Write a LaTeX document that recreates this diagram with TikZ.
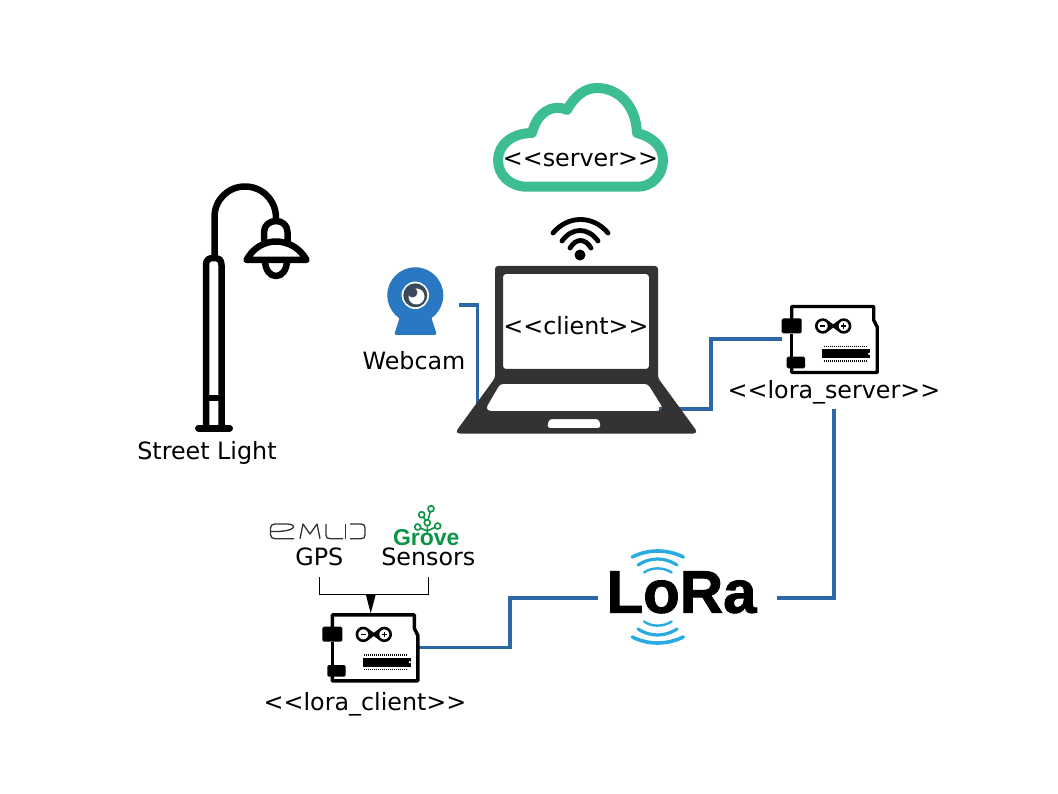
\documentclass[tikz,border=0pt]{standalone}
\usepackage{fontspec}
\setmainfont{DejaVu Sans}
\newfontfamily\logofont{Liberation Sans}
\newfontfamily\logoheavy[BoldFeatures={FakeBold=1.6}]{Liberation Sans}
\definecolor{wire}{HTML}{2E67A8}
\definecolor{cloudgreen}{HTML}{3DBD94}
\definecolor{laptopgrey}{HTML}{333333}
\definecolor{camblue}{HTML}{2A78C2}
\definecolor{camdark}{HTML}{3A4A5C}
\definecolor{lorablue}{HTML}{29ABE2}
\definecolor{grovegreen}{HTML}{0A9444}
\definecolor{emlidgrey}{HTML}{333333}
\tikzset{
  anchorbox/.style={inner sep=0pt,outer sep=0pt,minimum width=#1},
  lbl/.style={inner sep=0pt,outer sep=0pt,anchor=base,font=\fontsize{23.8}{28}\selectfont,text height=17.5pt,text depth=#1},
  lbl/.default=6pt,
  wireline/.style={draw=wire,line width=3.4pt},
  thinline/.style={draw=black,line width=0.9pt},
  lamp/.style={draw=black,line width=6.5pt,line join=round,line cap=round},
  wifi/.style={draw=black,line width=4.8pt,line cap=round},
  lorawave/.style={draw=lorablue,line cap=round},
  emlid/.style={draw=emlidgrey,line width=1.3pt,line join=round},
  grovetree/.style={draw=grovegreen,line width=1.6pt},
  arduinoicon/.pic={
    \draw[line width=3.4pt,line join=round,line cap=round]
      (10,13) -- (10,1.5) -- (92,1.5) -- (92,15) -- (95.5,22) -- (95.5,67.5) -- (10,67.5) -- (10,62);
    \draw[line width=3.4pt] (10,29) -- (10,52);
    \fill[rounded corners=1.5pt] (0,13.3) rectangle (20,28.3);
    \fill[rounded corners=1.5pt] (5,51.7) rectangle (23.3,63.3);
    \draw[line width=2.6pt] (41,21) circle[radius=6.4pt] (62,21) circle[radius=6.4pt]
      (45.6,16.6) -- (57.4,25.4) (45.6,25.4) -- (57.4,16.6);
    \draw[line width=1.2pt] (38.4,21) -- (43.6,21) (59.4,21) -- (64.6,21) (62,18.4) -- (62,23.6);
    \fill (40.3,44.3) rectangle (88.3,53.3);
    \fill[white] (87.5,48.8) circle[radius=1.3pt];
    \draw[line width=1.5pt,dash pattern=on 1pt off 1pt] (42,41.5) -- (86,41.5) (42,56) -- (86,56);
  }
}
\begin{document}
\begin{tikzpicture}[x=1pt,y=-1pt]
\useasboundingbox (0,0) rectangle (1058,794);

% invisible extents of the icons, used by the connectors
\node[anchorbox=72pt,minimum height=60pt] (webcam) at (423,305) {};
\node[anchorbox=95.6pt,minimum height=68pt] (loraserver) at (829.5,339) {};
\node[anchorbox=96.7pt,minimum height=68pt] (loraclient) at (370.7,647.4) {};
\node[anchorbox=179pt,minimum height=100pt] (lora) at (687.5,598) {};
\coordinate (laptopleft) at (477.5,404);
\coordinate (laptopright) at (659,409);
\coordinate (bendright) at (711,374);
\coordinate (bendlow) at (510,620);

% labels
\node[lbl] (streetlabel) at (207,459.5) {Street Light};
\node[lbl] (webcamlabel) at (414,369.3) {Webcam};
\node[lbl] (clientlabel) at (576,335) {<{}<client>{}>};
\node[lbl] (serverlabel) at (580.5,167) {<{}<server>{}>};
\node[lbl=10.7pt] (loraserverlabel) at (834,398.3) {<{}<lora\_server>{}>};
\node[lbl] (loraclientlabel) at (365,710) {<{}<lora\_client>{}>};
\node[lbl=12pt] (gps) at (319.3,565) {GPS};
\node[lbl=12pt] (sensors) at (428.3,565) {Sensors};

% connectors (under the laptop, which is drawn with see-through holes)
\draw[wireline] (webcam.east) -| (laptopleft);
\draw[wireline] (laptopright) -| (bendright) |- (loraserver.west);
\draw[wireline] (loraserverlabel.south) |- (lora.east);
\draw[wireline] (lora.west) -| (bendlow) |- (loraclient.east);
\coordinate (busjoin) at (370.8,594.3);
\draw[thinline] (gps.south) |- (busjoin) -| (sensors.south);
\fill (busjoin) ++(-5,0) -- ++(10,0) -- (loraclient.north) -- cycle;

% cloud
\draw[draw=cloudgreen,line width=10pt,line join=round]
  (527,186.7) -- (638,186.7)
  .. controls (652,186.7) and (663,175) .. (663,160)
  .. controls (663,147) and (653,137) .. (637,133)
  .. controls (636,105) and (618,88) .. (597,88)
  .. controls (584,88) and (574,97) .. (567,110)
  .. controls (552,103) and (537,113) .. (532,133)
  .. controls (512,133) and (498,145) .. (498,160)
  .. controls (498,175) and (510,186.7) .. (527,186.7) -- cycle;

% wifi
\fill (580,255) circle[radius=5.5pt];
\draw[wifi] (553,233) .. controls (568,215) and (593,215) .. (608,233);
\draw[wifi] (562,241) .. controls (572,227) and (588,227) .. (598,241);
\draw[wifi] (570,248) .. controls (576,238) and (585,238) .. (591,248);

% laptop
\fill[laptopgrey,even odd rule,rounded corners=3pt]
  (495,266) -- (658,266) -- (658,378) [rounded corners=5pt] -- (698.5,433.5) -- (454.5,433.5) [rounded corners=3pt] -- (495,378) -- cycle
  (503,274) -- (649,274) -- (649,369) -- (503,369) -- cycle
  (500,384) -- (648,384) -- (663,408) -- (660,411) -- (488,411) -- (486,408) -- cycle
  (549,419) -- (599,419) -- (601,428) -- (547,428) -- cycle;

% webcam
\fill[camblue,rounded corners=2.5pt]
  (400,315) -- (431,315) -- (432,320) -- (437,335) -- (394,335) -- (399,320) -- cycle;
\fill[camblue] (415.3,295.3) circle[radius=28pt];
\fill[white] (415.3,295.3) circle[radius=13.7pt];
\fill[camdark] (415.3,295.3) circle[radius=12pt];
\fill[white] (416.5,296.5) circle[radius=8pt];
\fill[camdark] (412.5,292.5) circle[radius=5pt];

% street light
\draw[lamp,line cap=butt] (206,428) -- (206,265) .. controls (206,259.5) and (209,258) .. (213.75,258)
  .. controls (218.5,258) and (221.5,259.5) .. (221.5,265) -- (221.5,428);
\draw[lamp,line width=6pt,line cap=butt] (206,397.5) -- (221.5,397.5);
\draw[lamp,line cap=round,line width=7pt] (198.5,428) -- (229.5,428);
\draw[lamp,line cap=butt] (214.5,258) -- (214.5,217) .. controls (214.5,200) and (228,186.5) .. (245,186.5)
  .. controls (262,186.5) and (276,200) .. (276,218);
\draw[lamp,line cap=butt] (264,241) -- (264,232) .. controls (264,225) and (270,221) .. (276,221)
  .. controls (282,221) and (287.5,225) .. (287.5,232) -- (287.5,241);
\draw[lamp] (246.5,260) -- (306.5,260) .. controls (300,248) and (288,241.5) .. (276,241.5)
  .. controls (264,241.5) and (253,248) .. (246.5,260) -- cycle;
\draw[lamp,line cap=butt] (265,260) .. controls (265,270) and (270,276) .. (276,276)
  .. controls (282,276) and (287,270) .. (287,260);

% arduino boards
\pic at (781.7,305) {arduinoicon};
\pic at (322.3,613.4) {arduinoicon};

% LoRa logo
\node[inner sep=0pt,outer sep=0pt,anchor=base west,font=\logoheavy\bfseries\fontsize{60}{60}\selectfont] (loratext) at (606.5,612.7) {LoRa};
\draw[lorawave,line width=3.6pt] (632.3,557) .. controls (648,549) and (667,549) .. (683.3,557);
\draw[lorawave,line width=3.2pt] (638,565) .. controls (650,557) and (665,557) .. (677,565);
\draw[lorawave,line width=2.4pt] (644,572.5) .. controls (652,567) and (663,567) .. (671.7,572.5);
\draw[lorawave,line width=3.6pt] (632.3,637) .. controls (648,645) and (667,645) .. (683.3,637);
\draw[lorawave,line width=3.2pt] (638,629) .. controls (650,637) and (665,637) .. (677,629);
\draw[lorawave,line width=2.4pt] (644,621.5) .. controls (652,627) and (663,627) .. (671.7,621.5);

% EMLID logo
\draw[emlid] (294,538.7) -- (275,538.7) .. controls (272,538.7) and (270.5,537) .. (270.5,534.5) -- (270.5,528)
  .. controls (270.5,525.5) and (272,524) .. (275,524) -- (287,524) .. controls (291,524) and (294,525.5) .. (293.5,527)
  .. controls (293,529.5) and (287,531) .. (278,531.5) -- (271,531.5);
\draw[emlid] (300,538.7) -- (303,524) -- (310,534) -- (317,524) -- (320,538.7);
\draw[emlid] (326,524) -- (326,535) .. controls (326,537.5) and (327.5,538.7) .. (330,538.7) -- (343,538.7);
\draw[emlid] (345.5,524) -- (345.5,538.7);
\draw[emlid] (350,524) -- (361,524) .. controls (364,524) and (365,525.5) .. (365,528) -- (365,535)
  .. controls (365,537.5) and (364,538.7) .. (361,538.7) -- (350,538.7);

% Grove logo
\draw[grovetree] (427.3,533) -- (427.3,522.7) -- (421.7,514.7) (427.3,522.7) -- (431,508.7)
  (427.3,531) -- (417.7,527) (427.3,531) -- (437.7,526);
\foreach \gx/\gy in {421.7/514.7,431/508.7,427.3/522.7,417.7/527,437.7/526}
  \draw[grovetree,fill=white] (\gx,\gy) circle[radius=3pt];
\node[inner sep=0pt,outer sep=0pt,anchor=base west,text=grovegreen,font=\logofont\bfseries\fontsize{23}{23}\selectfont] (grovetext) at (393,545.5) {Grove};
\end{tikzpicture}
\end{document}
